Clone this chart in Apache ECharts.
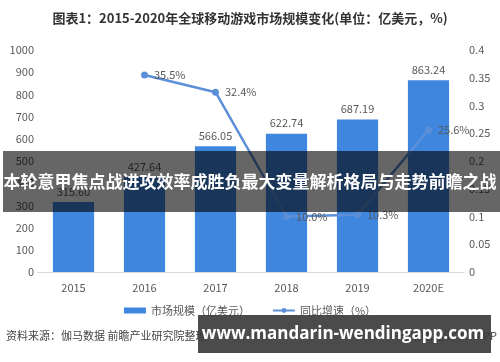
<!DOCTYPE html>
<html><head><meta charset="utf-8">
<script src="https://cdn.jsdelivr.net/npm/echarts@6/dist/echarts.min.js"></script>
<style>html,body{margin:0;padding:0;background:#fff}#c{width:500px;height:362px}</style>
</head><body><div id="c"></div>
<script>
const categories = ['2015','2016','2017','2018','2019','2020E'];
const marketSize = [315.6, 427.64, 566.05, 622.74, 687.19, 863.24];
const growthRate = [null, 0.355, 0.324, 0.100, 0.103, 0.256];
const leftTicks = [0, 100, 200, 300, 400, 500, 600, 700, 800, 900, 1000];
const rightTicks = [0, 0.05, 0.1, 0.15, 0.2, 0.25, 0.3, 0.35, 0.4];
const titleText = '图表1：2015-2020年全球移动游戏市场规模变化(单位：亿美元，%)';
const seriesNames = ['市场规模（亿美元）', '同比增速（%）'];
const sourceText = '资料来源：伽马数据 前瞻产业研究院整理';
const brandText = '@前瞻经济学人APP';
const bannerText = '本轮意甲焦点战进攻效率成胜负最大变量解析格局与走势前瞻之战';
const urlText = 'www.mandarin-wendingapp.com';

const font = '"Noto Sans CJK SC", "Noto Sans", sans-serif';
const chart = echarts.init(document.getElementById('c'));
chart.setOption({
  animation: false,
  textStyle: {fontFamily: font},
  title: {text: titleText, left: 'center', top: 7,
    textStyle: {fontSize: 13, fontWeight: 'bold', color: '#333', fontFamily: font}},
  grid: {left: 38, right: 36, top: 50, bottom: 90},
  legend: {bottom: 41, left: 'center', itemGap: 22, itemWidth: 22, itemHeight: 6,
    textStyle: {color: '#595959', fontSize: 11},
    data: [{name: seriesNames[0], icon: 'rect'}, {name: seriesNames[1]}]},
  xAxis: {type: 'category', data: categories,
    axisLine: {lineStyle: {color: '#d9d9d9'}}, axisTick: {show: false},
    axisLabel: {color: '#595959', fontSize: 11, margin: 10}},
  yAxis: [
    {type: 'value', min: 0, max: 1000, interval: 100,
      axisLine: {show: false}, axisTick: {show: false}, splitLine: {show: false},
      axisLabel: {color: '#595959', fontSize: 11, margin: 4,
        formatter: v => leftTicks.includes(v) ? String(v) : ''}},
    {type: 'value', min: 0, max: 0.4, interval: 0.05,
      axisLine: {show: false}, axisTick: {show: false}, splitLine: {show: false},
      axisLabel: {color: '#595959', fontSize: 11, margin: 5,
        formatter: v => rightTicks.includes(+v.toFixed(2)) ? String(+v.toFixed(2)) : ''}}
  ],
  series: [
    {name: seriesNames[0], type: 'bar', data: marketSize, barWidth: '58%',
      itemStyle: {color: '#3f86de'},
      label: {show: true, position: 'top', color: '#595959', fontSize: 11, distance: 5,
        formatter: p => p.value.toFixed(2)}},
    {name: seriesNames[1], type: 'line', yAxisIndex: 1, data: growthRate,
      symbol: 'circle', symbolSize: 7, connectNulls: false,
      lineStyle: {color: '#5b8fd8', width: 2.5}, itemStyle: {color: '#5b8fd8'},
      label: {show: true, position: 'right', color: '#595959', fontSize: 11, distance: 6,
        formatter: p => (p.value * 100).toFixed(1) + '%'}}
  ],
  graphic: [
    {type: 'text', left: 6, top: 330, style: {text: sourceText, fill: '#444', fontSize: 11, fontFamily: font}},
    {type: 'text', right: 3, top: 330, style: {text: brandText, fill: '#444', fontSize: 11, fontFamily: font}},
    {type: 'rect', shape: {x: 3, y: 151, width: 497, height: 61}, style: {fill: 'rgba(0,0,0,0.6)'}, z: 100},
    {type: 'text', x: 250, y: 182, z: 101, style: {text: bannerText, fill: '#fff', fontSize: 17, fontWeight: 'bold',
      fontFamily: font, textAlign: 'center', textVerticalAlign: 'middle'}},
    {type: 'rect', shape: {x: 198, y: 315, width: 293, height: 38}, style: {fill: 'rgba(60,60,60,0.92)'}, z: 100},
    {type: 'text', x: 343, y: 334, z: 101, style: {text: urlText, fill: '#fff', fontSize: 17, fontWeight: 'bold',
      fontFamily: '"Open Sans", sans-serif', textAlign: 'center', textVerticalAlign: 'middle'}}
  ]
});
</script></body></html>
